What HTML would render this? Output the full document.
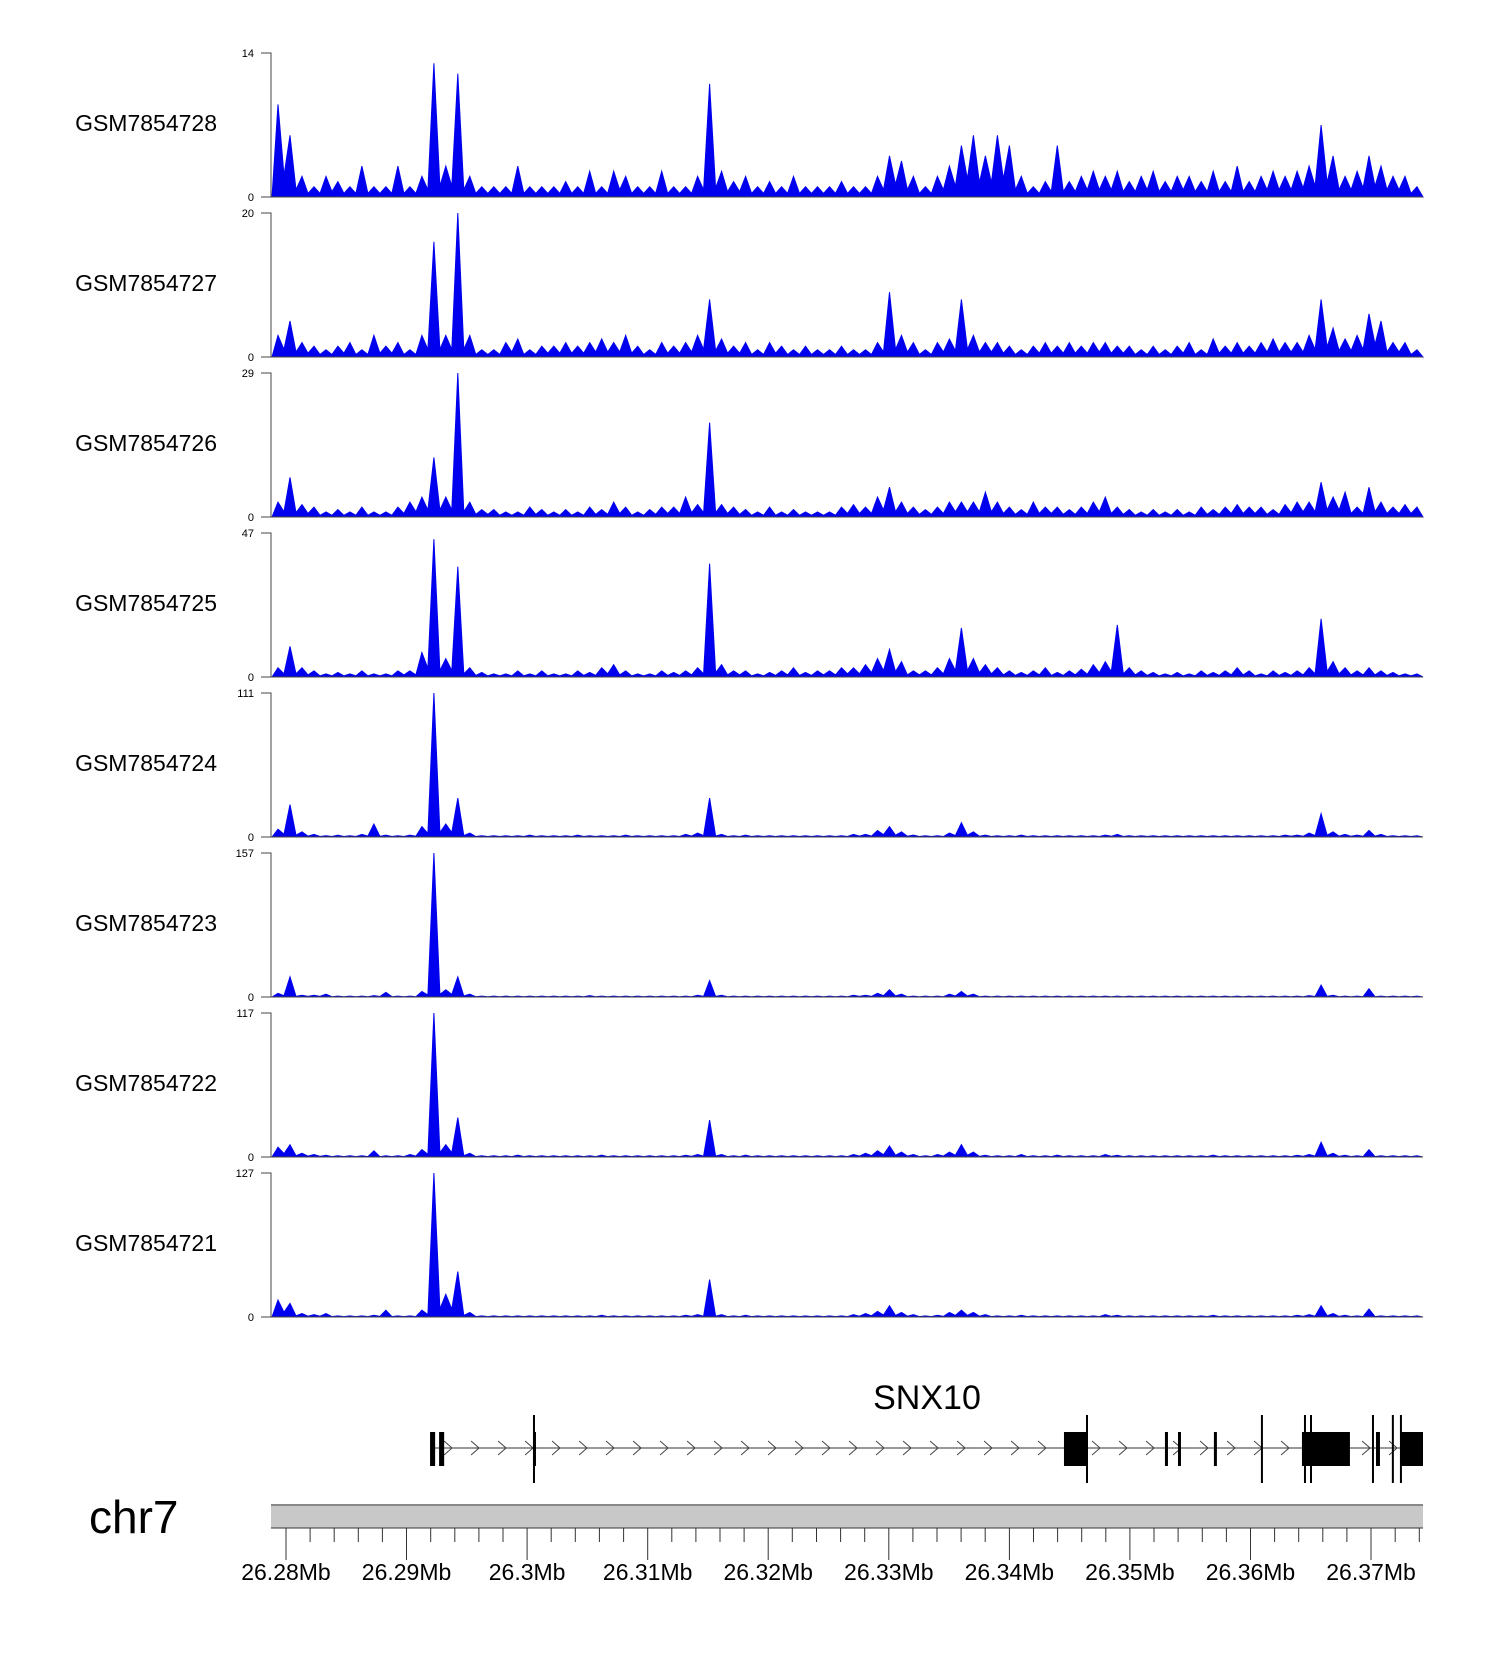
<!DOCTYPE html>
<html><head><meta charset="utf-8"><style>
html,body{margin:0;padding:0;background:#fff;}
svg{display:block;font-family:"Liberation Sans",Arial,sans-serif;}
</style></head><body>
<svg id="chart" width="1500" height="1660" viewBox="0 0 1500 1660" xmlns="http://www.w3.org/2000/svg">
<g id="tracks"></g>
<g id="gene"></g>
<g id="axis"></g>
</svg>
<script>
const trackNames = ["GSM7854728","GSM7854727","GSM7854726","GSM7854725","GSM7854724","GSM7854723","GSM7854722","GSM7854721"];
const trackMax = [14,20,29,47,111,157,117,127];
const startMb = 26.27884, endMb = 26.37431;
const t1 = [9,6,2,1,2,1.5,1,3,1,1,3,1,2,13,3,12,2,1,1,1,3,1,1,1,1.5,1,2.5,1,2.5,2,1,1,2.5,1,1,2,11,2.5,1.5,2,1,1.5,1,2,1,1,1,1.5,1,1,2,4,3.5,2,1,2,3,5,6,4,6,5,2,1,1.5,5,1.5,2,2.5,2,2.5,1.5,2,2.5,1.5,2,2,1.5,2.5,1.5,3,1.5,2,2.5,2,2.5,3,7,4,2,2.5,4,3,2,2,1];
const t2 = [3,5,2,1.5,1,1.5,2,1,3,1.5,2,1,3,16,3,20,3,1,1,2,2.5,1,1.5,1.5,2,1.5,2,2.5,2,3,1.5,1,2,1.5,2,3,8,2.5,1.5,2,1,2,1.5,1,1.5,1,1,1.5,1,1,2,9,3,2,1,2,2.5,8,3,2,2,1.5,1,1.5,2,1.5,2,1.5,2,2,1.5,1.5,1,1.5,1,1.5,2,1,2.5,1.5,2,1.5,2,2.5,2,2,3,8,4,2.5,3,6,5,2,2,1];
const t3 = [3,8,2.5,2,1,1.5,1,2,1,1,2,3,4,12,4,29,3,1.5,1.5,1,1,2,1.5,1,1.5,1,2,1.5,3,2,1,1.5,2,2,4,2.5,19,2.5,2,1.5,1,2,1,1.5,1,1,1,2,2.5,2,4,6,3,2,1.5,2,3,3,3,5,3,2,1.5,3,2,2,1.5,2,3,4,2,1.5,1,1.5,1,1.5,1,2,1.5,2,2.5,2,2,1.5,2.5,3,3,7,4,5,2,6,3,2,2.5,2];
const t4 = [3,10,3,2,1,1.5,1,2,1,1,2,2,8,45,6,36,3,1.5,1,1,2,1,2,1,1,2,1.5,3,4,2,1,1,2,1.5,2,3,37,4,2,2,1,1.5,2,3,1.5,2,2,3,3,4,6,9,5,2,2,3,6,16,6,4,3,2,1.5,2,3,1.5,2,2.5,4,5,17,3,2,1.5,1,1.5,1,2,1.5,2,3,2,1,2,1.5,2,3,19,5,3,2,3,2,1.5,1,1];
const t5 = [6,25,4,2,1,1.5,1,2,10,1.5,1,1.5,8,111,10,30,3,1,1,1,1,1.5,1,1,1,1.5,1,1,1,1.5,1,1,1,1,2,3,30,2,1,1.5,1,1,1,1,1,1,1,1,2,2,5,8,4,1.5,1,1,3,11,4,1.5,1,1,1.5,1,1,1,1,1,1,1.5,2,1,1,1,1,1,1,1,1,1,1,1,1,1,1.5,1.5,3,18,4,2,1.5,5,2,1,1,1];
const t6 = [4,22,2,2,3,1,1,1,1.5,5,1,1,6,157,8,22,3,1,1,1,1,1,1,1,1,1,1.5,1,1,1,1,1,1,1,1,2,18,2,1,1,1,1,1,1,1,1,1,1,2,2,4,8,3,1,1,1,3,6,3,1,1,1,1,1,1,1,1,1,1,1,1,1,1,1,1,1,1,1,1,1,1,1,1,1,1,1,1.5,13,2,1,1,9,1,1,1,1];
const t7 = [8,10,3,2,1.5,1,1,1,5,1,1,2,6,117,10,32,3,1,1,1,1.5,1,1,1,1,1,1,1.5,1,1,1,1,1,1,1.5,2,30,2,1,1.5,1,1,1,1,1,1,1,1,2,3,5,9,4,2,1,2,4,10,4,1.5,1,1,2,1,1,1.5,1,1,1,2,1.5,1,1,1,1,1,1,1,1.5,1,1,1,1,1,1,1.5,2,12,3,1.5,1,6,1,1,1,1];
const t8 = [15,12,3,2,3,1,1,1,1.5,6,1,1,6,127,20,40,4,1,1,1,1,1,1,1,1,1,1,1.5,1,1,1,1,1,1,1.5,2,33,2,1,1.5,1,1,1,1,1,1,1,1,2,3,5,10,4,2,1,1.5,4,6,4,2,1,1,1.5,1,1,1,1,1,1,2,1.5,1,1,1,1,1,1,1,1.5,1,1,1,1,1,1,1.5,2,10,3,1.5,1,7,1,1,1,1];
const trackValues = [t1,t2,t3,t4,t5,t6,t7,t8];
const tickMb = [26.28,26.29,26.30,26.31,26.32,26.33,26.34,26.35,26.36,26.37];
const tickLabels = ["26.28Mb","26.29Mb","26.3Mb","26.31Mb","26.32Mb","26.33Mb","26.34Mb","26.35Mb","26.36Mb","26.37Mb"];
const exonBoxes = [[26.29195,26.29237],[26.29270,26.29312],[26.34453,26.34644],[26.36427,26.36825],[26.37248,26.37431]];
const exonLines = [26.30057,26.35299,26.35407,26.35705];
const tallLines = [26.30057,26.34644,26.36095,26.36452,26.36502,26.37016,26.37181,26.37248];
const smallExons = [[26.37041,26.37074]];

const NS="http://www.w3.org/2000/svg";
const X0=272, X1=1423;
function xs(mb){return X0+(mb-startMb)/(endMb-startMb)*(X1-X0);}
function mk(tag,attrs,parent){const e=document.createElementNS(NS,tag);for(const k in attrs)e.setAttribute(k,attrs[k]);parent.appendChild(e);return e;}
const tg=document.getElementById('tracks');
trackNames.forEach((nm,i)=>{
  const top=53+160*i, zero=197+160*i, h=zero-top;
  const g=mk('g',{},tg);
  
  
  const lab=mk('text',{x:217,y:top+78,'text-anchor':'end','font-size':23,fill:'#000'},g);
  lab.textContent=nm;
  
  
  const vals=trackValues[i], n=vals.length, bw=(X1-X0)/n;
  const ys=v=>zero-v/trackMax[i]*h;
  let pts=X0+','+zero+' ';
  vals.forEach((v,j)=>{
    pts+=(X0+bw*(j+0.5)).toFixed(1)+','+ys(v).toFixed(1)+' ';
    if(j<n-1){const m=Math.min(v,vals[j+1])*0.35;pts+=(X0+bw*(j+1)).toFixed(1)+','+ys(m).toFixed(1)+' ';}
  });
  pts+=X1+','+zero;
  const poly=mk('polygon',{points:pts,fill:'#0000EE',stroke:'#0000EE','stroke-width':1,'stroke-linejoin':'miter'},g);
  
  
  const ax=mk('path',{d:`M261 ${top}H271V${zero}H261 M271 ${zero}H${X1}`,stroke:'#444','stroke-width':1,fill:'none'},g);
  
  
  const tt=mk('text',{x:254,y:top+4,'text-anchor':'end','font-size':11},g);tt.textContent=trackMax[i];
  
  
  const tz=mk('text',{x:254,y:zero+4,'text-anchor':'end','font-size':11},g);tz.textContent='0';
  
  
});
const gg=document.getElementById('gene');
const gl=mk('text',{x:927,y:1409,'text-anchor':'middle','font-size':34},gg);gl.textContent='SNX10';


const GY=1448;
const gx0=xs(exonBoxes[0][0]);
mk('line',{x1:gx0,y1:GY,x2:X1,y2:GY,stroke:'#333','stroke-width':1},gg);
let chev='';
for(let x=gx0+18;x<X1-6;x+=27){chev+=`M${x-4} ${GY-7}L${x+4} ${GY}L${x-4} ${GY+7}`;}
mk('path',{d:chev,stroke:'#444','stroke-width':1,fill:'none'},gg);
exonBoxes.forEach(b=>{const r=mk('rect',{x:xs(b[0]),y:1432,width:Math.max(3,xs(b[1])-xs(b[0])),height:34,fill:'#000'},gg);
  
  });
smallExons.forEach(b=>{mk('rect',{x:xs(b[0]),y:1432,width:Math.max(3,xs(b[1])-xs(b[0])),height:34,fill:'#000'},gg);});
exonLines.forEach(m=>{mk('rect',{x:xs(m)-1,y:1432,width:3,height:34,fill:'#000'},gg);});
tallLines.forEach(m=>{mk('rect',{x:xs(m)-1,y:1415,width:2,height:68,fill:'#000'},gg);});
const ag=document.getElementById('axis');
const chr=mk('text',{x:89,y:1533,'font-size':46},ag);chr.textContent='chr7';


const bar=mk('rect',{x:271,y:1504,width:X1-271,height:24,fill:'#c8c8c8'},ag);


mk('line',{x1:271,y1:1505,x2:X1,y2:1505,stroke:'#888','stroke-width':2},ag);
mk('line',{x1:271,y1:1528,x2:X1,y2:1528,stroke:'#333','stroke-width':1},ag);
let tk='';
for(let k=0;k<=48;k++){const mb=26.278+k*0.002;if(mb<startMb||mb>endMb)continue;const x=xs(mb).toFixed(1);const r=Math.round(mb*1000)%10;tk+=`M${x} 1528V${r===0?1560:1542}`;}
mk('path',{d:tk,stroke:'#333','stroke-width':1},ag);
tickMb.forEach((m,i)=>{const t=mk('text',{x:xs(m),y:1580,'text-anchor':'middle','font-size':23},ag);t.textContent=tickLabels[i];
  
  });
</script>
</body></html>
